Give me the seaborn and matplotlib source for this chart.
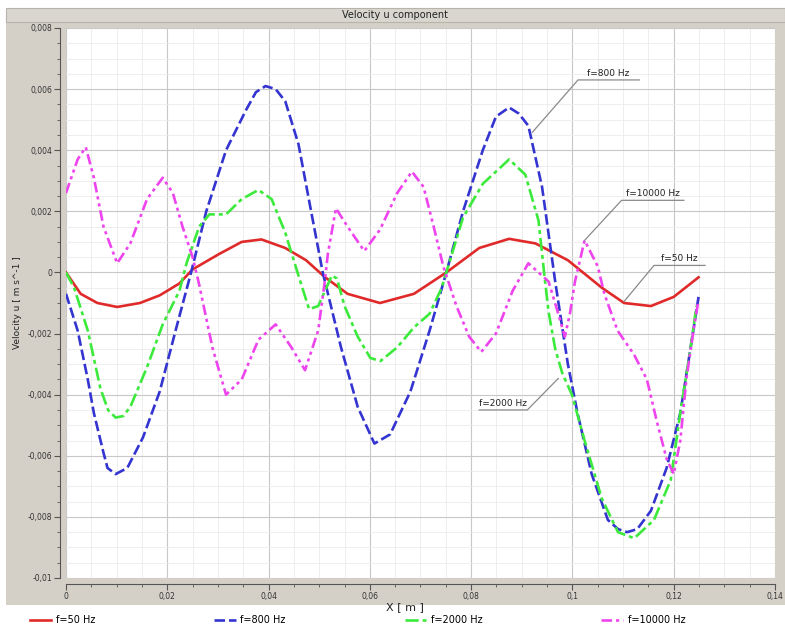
import numpy as np
import pandas as pd
import matplotlib
matplotlib.use("Agg")
import matplotlib.pyplot as plt
import matplotlib.patches as mpatches
from matplotlib.ticker import MultipleLocator, FuncFormatter
import seaborn as sns

# values (x in m, u in m/s)
x_50 = [0, 0.0029, 0.0062, 0.0101, 0.0146, 0.0185, 0.0224, 0.025, 0.0302, 0.0347,
        0.0386, 0.0433, 0.0474, 0.0511, 0.0556, 0.062, 0.0687, 0.0751, 0.0816, 0.0875,
        0.0927, 0.0991, 0.1058, 0.1102, 0.1155, 0.12, 0.1249]
u_50 = [0, -0.0007, -0.001, -0.00113, -0.001, -0.00075, -0.00036, 0.0001, 0.0006, 0.001,
        0.00108, 0.0008, 0.0004, -0.00015, -0.0007, -0.001, -0.0007, 0.0, 0.0008, 0.0011,
        0.00095, 0.0004, -0.0005, -0.001, -0.0011, -0.0008, -0.00016]

x_800 = [0, 0.0023, 0.0043, 0.0055, 0.0074, 0.0082, 0.0098, 0.0121, 0.0152, 0.0185,
         0.0218, 0.0247, 0.0277, 0.0316, 0.0355, 0.0375, 0.0394, 0.0414, 0.0433, 0.0459,
         0.0484, 0.0507, 0.0543, 0.0576, 0.0609, 0.064, 0.068, 0.0718, 0.0751, 0.0784,
         0.0823, 0.0849, 0.0875, 0.0894, 0.0913, 0.094, 0.0966, 0.0991, 0.101, 0.1038,
         0.107, 0.109, 0.1108, 0.1128, 0.1155, 0.1186, 0.1213, 0.1233, 0.1249]
u_800 = [-0.0007, -0.0019, -0.0035, -0.0046, -0.0059, -0.0064, -0.0066, -0.0064, -0.0054, -0.0039,
         -0.0018, 0.0, 0.002, 0.004, 0.0053, 0.0059, 0.0061, 0.006, 0.0056, 0.0042,
         0.002, 0.0, -0.00245, -0.0044, -0.0056, -0.0053, -0.0039, -0.0019, 0.0, 0.002,
         0.004, 0.0051, 0.0054, 0.0052, 0.0048, 0.0028, -0.0003, -0.003, -0.0046, -0.0066,
         -0.0081, -0.0084, -0.0085, -0.0084, -0.0078, -0.0064, -0.0046, -0.0025, -0.0008]

x_2000 = [0, 0.0016, 0.0043, 0.0068, 0.0083, 0.0098, 0.0113, 0.0127, 0.016, 0.0191,
          0.0224, 0.0238, 0.0263, 0.0283, 0.0316, 0.0347, 0.038, 0.0406, 0.0433, 0.0459,
          0.048, 0.0498, 0.0525, 0.0535, 0.055, 0.0576, 0.0601, 0.0621, 0.0654, 0.0687,
          0.0718, 0.0742, 0.0751, 0.0784, 0.0823, 0.0875, 0.0907, 0.0933, 0.0946, 0.0953,
          0.0966, 0.098, 0.0999, 0.1024, 0.1058, 0.109, 0.1122, 0.1161, 0.1194, 0.1213,
          0.1233, 0.1245]
u_2000 = [0, -0.0005, -0.0019, -0.0038, -0.0045, -0.00475, -0.0047, -0.0044, -0.0031, -0.0017,
          -0.0006, 0.0003, 0.0015, 0.0019, 0.0019, 0.0024, 0.0027, 0.0024, 0.0013, -0.0001,
          -0.0012, -0.0011, -0.0001, -0.0002, -0.0011, -0.0021, -0.0028, -0.0029, -0.00245, -0.0018,
          -0.00135, -0.0005, 0.0, 0.0018, 0.0029, 0.0037, 0.0032, 0.0017, -0.0003, -0.0013,
          -0.0025, -0.0033, -0.004, -0.0055, -0.0074, -0.0085, -0.0087, -0.0081, -0.0068, -0.0046,
          -0.0025, -0.0011]

x_10000 = [0, 0.0023, 0.0039, 0.0055, 0.0074, 0.0101, 0.0127, 0.016, 0.0191, 0.0211,
           0.023, 0.025, 0.0263, 0.0289, 0.0316, 0.0347, 0.038, 0.0414, 0.0445, 0.0472,
           0.0498, 0.0511, 0.0517, 0.0533, 0.0556, 0.0589, 0.062, 0.0654, 0.0683, 0.0706,
           0.0726, 0.0745, 0.0771, 0.0796, 0.082, 0.0849, 0.0882, 0.0913, 0.0933, 0.0953,
           0.0972, 0.0985, 0.0995, 0.1005, 0.1024, 0.105, 0.1063, 0.1089, 0.1122, 0.1147,
           0.1167, 0.1186, 0.12, 0.1213, 0.1225, 0.1239, 0.1249]
u_10000 = [0.0026, 0.0037, 0.0041, 0.0031, 0.0015, 0.0003, 0.00095, 0.0024, 0.0031, 0.0026,
           0.0015, 0.0005, -0.0004, -0.00245, -0.004, -0.0035, -0.0022, -0.0017, -0.00245, -0.0032,
           -0.0019, -0.0003, 0.0006, 0.0021, 0.0015, 0.0007, 0.0014, 0.0026, 0.0033, 0.0028,
           0.0015, 0.0002, -0.0011, -0.0021, -0.0026, -0.002, -0.0006, 0.0003, 0.0, -0.0003,
           -0.00135, -0.0021, -0.00135, -0.0003, 0.00105, 0.0002, -0.0007, -0.0019, -0.0027, -0.0035,
           -0.0049, -0.0061, -0.0066, -0.0055, -0.0035, -0.0019, -0.0009]

labels = ["f=50 Hz", "f=800 Hz", "f=2000 Hz", "f=10000 Hz"]
colors = ["#e02a2a", "#3434d0", "#3cea3c", "#ee44ee"]

df = pd.concat([
    pd.DataFrame({"x": x_50, "u": u_50, "series": labels[0]}),
    pd.DataFrame({"x": x_800, "u": u_800, "series": labels[1]}),
    pd.DataFrame({"x": x_2000, "u": u_2000, "series": labels[2]}),
    pd.DataFrame({"x": x_10000, "u": u_10000, "series": labels[3]}),
], ignore_index=True)

panel = "#d4d0c8"
fig = plt.figure(figsize=(7.85, 6.3), dpi=100, facecolor="white")
W, H = 785, 630

# grey window panel + title bar
fig.patches.append(mpatches.Rectangle((6 / W, 1 - 605 / H), 1 - 6 / W, (605 - 8) / H,
                                      transform=fig.transFigure, facecolor=panel,
                                      edgecolor="none", zorder=-10))
fig.patches.append(mpatches.Rectangle((6 / W, 1 - 22 / H), 1 - 6 / W, 14 / H,
                                      transform=fig.transFigure, facecolor="#d9d6d0",
                                      edgecolor="#b8b4ac", lw=0.8, zorder=-9))
fig.text(395 / W, 1 - 15 / H, "Velocity u component", ha="center", va="center",
         fontsize=7, color="#222222")

ax = fig.add_axes([66 / W, 1 - 578 / H, (775 - 66) / W, (578 - 28) / H])
ax.set_facecolor("white")

dashes = {labels[0]: "", labels[1]: (4, 1.5), labels[2]: (5, 1.5, 1.5, 1.5),
          labels[3]: (4, 1.5, 1.2, 1.5, 1.2, 1.5)}
sns.lineplot(data=df, x="x", y="u", hue="series", style="series", hue_order=labels,
             style_order=labels, palette=colors, dashes=dashes, sort=False,
             estimator=None, linewidth=1.9, legend=False, ax=ax)

ax.set_xlim(0, 0.14)
ax.set_ylim(-0.01, 0.008)
ax.xaxis.set_major_locator(MultipleLocator(0.02))
ax.xaxis.set_minor_locator(MultipleLocator(0.005))
ax.yaxis.set_major_locator(MultipleLocator(0.002))
ax.yaxis.set_minor_locator(MultipleLocator(0.0005))


def comma(v, pos):
    if abs(v) < 1e-12:
        return "0"
    return f"{v:g}".replace(".", ",")


ax.xaxis.set_major_formatter(FuncFormatter(comma))
ax.yaxis.set_major_formatter(FuncFormatter(comma))
ax.grid(which="major", color="#c8c8c8", lw=0.8)
ax.grid(which="minor", color="#ebebeb", lw=0.6)
ax.set_axisbelow(True)

for s in ["top", "right"]:
    ax.spines[s].set_visible(False)
for s in ["left", "bottom"]:
    ax.spines[s].set_position(("outward", 4))
    ax.spines[s].set_color("#555555")
ax.tick_params(which="major", length=4, width=0.8, color="#555555", labelsize=5.5,
               labelcolor="#333333", pad=2)
ax.tick_params(which="minor", length=2, width=0.6, color="#555555")

ax.set_xlabel("X [ m ]", fontsize=8, color="#222222")
ax.xaxis.set_label_coords((405 - 66) / 709, -24 / 550)
ax.set_ylabel("Velocity u [ m s^-1 ]", fontsize=6.5, color="#222222")
ax.yaxis.set_label_coords(-(66 - 22) / 709, 0.5)

# callout labels: (curve point, underline start, underline end, label)
callouts = [
    ((0.0921, 0.00459), (0.1011, 0.0063), (0.1132, 0.0063), "f=800 Hz"),
    ((0.1024, 0.00105), (0.1097, 0.00236), (0.1220, 0.00236), "f=10000 Hz"),
    ((0.1102, -0.00095), (0.1161, 0.00023), (0.1262, 0.00023), "f=50 Hz"),
    ((0.0972, -0.00347), (0.0911, -0.0045), (0.0816, -0.0045), "f=2000 Hz"),
]
for (cx, cy), (ax0, ay), (ax1, _), txt in callouts:
    ax.plot([cx, ax0, ax1], [cy, ay, ay], color="#8a8a8a", lw=0.9, zorder=5)
    ax.text((ax0 + ax1) / 2, ay + 0.00008, txt, ha="center", va="bottom",
            fontsize=6.5, color="#222222", zorder=6)

fig.legend(ax.lines[:4], labels, ncol=4, loc="lower left",
           bbox_to_anchor=(25 / W, 0.0, (690 - 25) / W, 22 / H), mode="expand",
           frameon=False, fontsize=7, handlelength=2.2, handletextpad=0.5,
           borderaxespad=0.1)

fig.savefig("out.png", dpi=100, facecolor="white")
